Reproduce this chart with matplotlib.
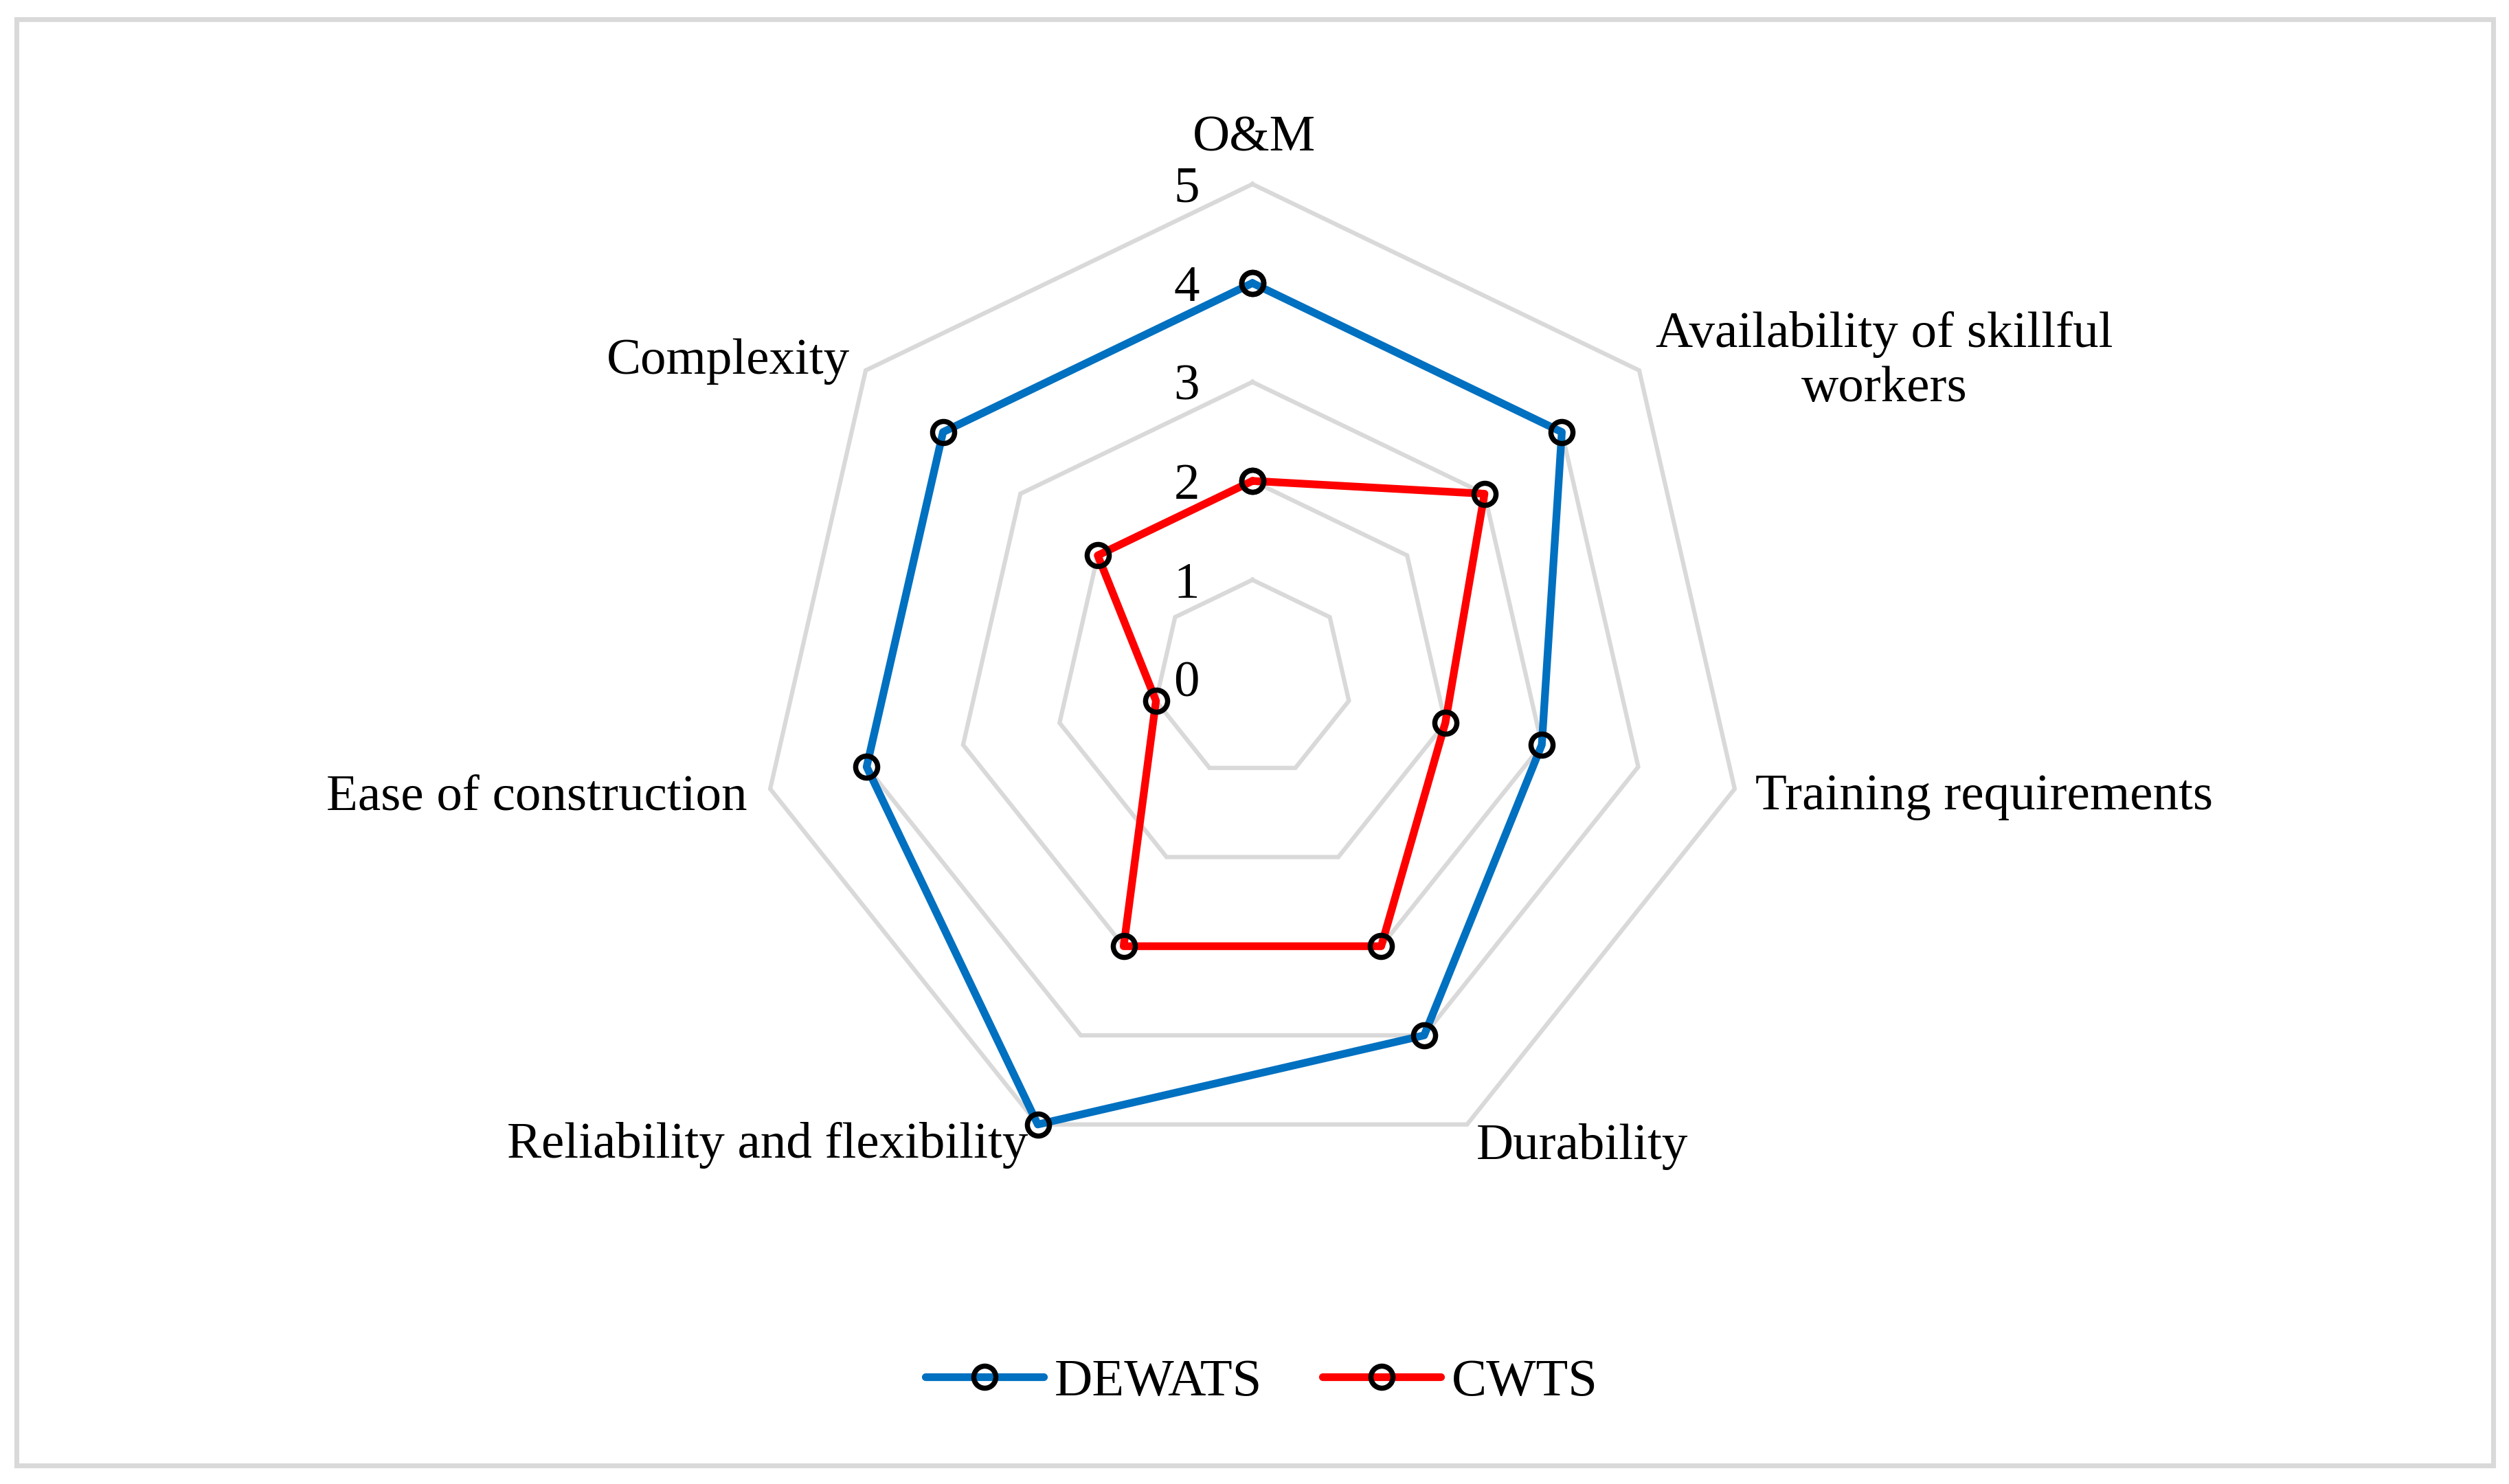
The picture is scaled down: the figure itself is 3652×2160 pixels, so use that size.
import numpy as np
import matplotlib
matplotlib.use("Agg")
import matplotlib.pyplot as plt
from matplotlib.patches import Rectangle

# ---------------- data ----------------
categories = ["O&M", "Availability of skillful\nworkers", "Training requirements",
              "Durability", "Reliability and flexibility", "Ease of construction",
              "Complexity"]
series_names = ["DEWATS", "CWTS"]
dewats = [4, 4, 3, 4, 5, 4, 4]
cwts = [2, 3, 2, 3, 3, 1, 2]
r_ticks = [0, 1, 2, 3, 4, 5]
grid_levels = [1, 2, 3, 4, 5]

# ---------------- style ----------------
W, H, DPI = 3653, 2160, 300
FONT = "Liberation Serif"
FS = 18.0
BLUE = "#0070C0"
RED = "#FF0000"
GRID = "#D9D9D9"

plt.rcParams["font.family"] = [FONT, "DejaVu Serif"]

fig = plt.figure(figsize=(W / DPI, H / DPI), dpi=DPI)
fig.patch.set_facecolor("white")

# outer border
fig.patches.append(Rectangle((24 / W, 1 - 2133 / H), (3629 - 24) / W, (2133 - 28) / H,
                             transform=fig.transFigure, fill=False,
                             edgecolor=GRID, linewidth=1.7))

cx, cy, R = 1823, 988, 720
ax = fig.add_axes([(cx - R) / W, (H - cy - R) / H, 2 * R / W, 2 * R / H],
                  projection="polar")
ax.set_theta_zero_location("N")
ax.set_theta_direction(-1)
ax.set_ylim(0, 5)
ax.set_axis_off()

n = len(categories)
theta = np.linspace(0, 2 * np.pi, n, endpoint=False)
theta_c = np.concatenate([theta, theta[:1]])

# heptagon grid
for lv in grid_levels:
    ax.plot(theta_c, [lv] * (n + 1), color=GRID, lw=1.5, clip_on=False, zorder=1,
            solid_joinstyle="miter")

# series
for vals, col, name in [(dewats, BLUE, series_names[0]), (cwts, RED, series_names[1])]:
    v = list(vals) + [vals[0]]
    ax.plot(theta_c, v, color=col, lw=2.7, marker="o", ms=7.7, mew=1.8,
            mec="black", mfc="none", label=name, clip_on=False, zorder=3,
            solid_joinstyle="round", solid_capstyle="round")

# radial tick labels
for t in r_ticks:
    ax.annotate(str(t), (0, t), xytext=(-77, -26), textcoords="offset pixels",
                ha="right", va="baseline", fontsize=FS, annotation_clip=False)

# category labels: (dx, dy) pixel offsets from outer vertex, alignment
label_layout = [
    ((3, 49), "center", "baseline"),
    ((24, 13), "left", "center"),
    ((30, -30), "left", "baseline"),
    ((13, -50), "left", "baseline"),
    ((-14, -48), "right", "baseline"),
    ((-34, -30), "right", "baseline"),
    ((-23, -5), "right", "baseline"),
]
for th, lab, (off, ha, va) in zip(theta, categories, label_layout):
    ax.annotate(lab, (th, 5), xytext=off, textcoords="offset pixels",
                ha=ha, va=va, fontsize=FS, multialignment="center",
                linespacing=1.22, annotation_clip=False)

leg = fig.legend(loc="center", bbox_to_anchor=(1836 / W, 1 - 2012 / H),
                 ncol=2, frameon=False, fontsize=FS + 0.4, handlelength=2.25,
                 handletextpad=0.2, columnspacing=1.15, numpoints=1)
for line in leg.get_lines():
    line.set_solid_capstyle("round")

fig.savefig("out.png", dpi=DPI)
